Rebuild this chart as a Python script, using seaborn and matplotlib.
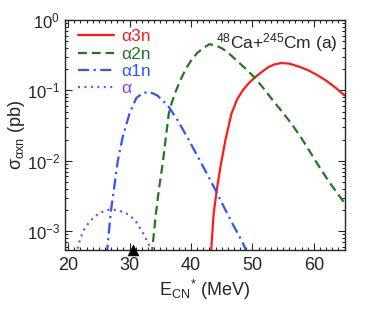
import numpy as np
import pandas as pd
import seaborn as sns
import matplotlib
matplotlib.use("Agg")
import matplotlib.pyplot as plt
from matplotlib.ticker import LogLocator, MultipleLocator, NullFormatter

# ---- data ----
a3n_x = [43.2, 43.3, 43.7, 44.2, 44.8, 45.6, 46.6, 47.5, 48.5, 49.5, 50.5, 51.5, 52.6, 53.6, 54.7,
         56.0, 57.5, 59.0, 60.5, 62.0, 63.5, 65.0]
a3n_y = [4.47e-4, 5.37e-4, 1.78e-3, 3.80e-3, 8.13e-3, 0.0195, 0.0468, 0.0740, 0.102, 0.129, 0.155,
         0.182, 0.214, 0.234, 0.245, 0.240, 0.219, 0.195, 0.166, 0.138, 0.110, 0.0851]

a2n_x = [33.6, 34.3, 34.8, 35.4, 35.9, 36.4, 36.9, 37.5, 38.3, 39.2, 40.0, 41.0, 42.0, 43.0, 44.0,
         45.0, 46.0, 47.0, 48.0, 49.0, 50.5, 52.0, 53.5, 55.0, 56.5, 58.0, 59.5, 61.0, 62.5, 64.0, 65.0]
a2n_y = [4.47e-4, 1.78e-3, 3.98e-3, 9.12e-3, 0.0209, 0.0468, 0.0676, 0.0955, 0.141, 0.204, 0.263,
         0.339, 0.398, 0.452, 0.437, 0.398, 0.347, 0.288, 0.240, 0.200, 0.148, 0.102, 0.0692,
         0.0479, 0.0324, 0.0209, 0.0129, 7.94e-3, 5.01e-3, 3.31e-3, 2.51e-3]

a1n_x = [26.3, 26.6, 27.0, 27.6, 28.1, 28.9, 30.0, 31.1, 32.1, 33.2, 34.5, 36.2, 37.8, 39.5, 41.3,
         43.0, 44.2, 45.5, 47.0, 48.3, 49.1, 49.3]
a1n_y = [4.47e-4, 8.91e-4, 2.0e-3, 4.79e-3, 0.0100, 0.0219, 0.0468, 0.0776, 0.0912, 0.0955, 0.0851,
         0.0617, 0.0380, 0.0209, 0.0107, 5.62e-3, 3.55e-3, 2.09e-3, 1.17e-3, 7.24e-4, 5.01e-4, 4.47e-4]

a0n_x = [21.3, 21.9, 22.5, 23.3, 24.3, 25.9, 27.0, 28.4, 30.0, 31.1, 32.1, 32.9, 33.6, 33.8]
a0n_y = [4.6e-4, 7.4e-4, 1.02e-3, 1.29e-3, 1.62e-3, 1.95e-3, 2.04e-3, 1.95e-3, 1.7e-3, 1.35e-3,
         9.8e-4, 7.1e-4, 5.4e-4, 4.6e-4]

labels = ["α3n", "α2n", "α1n", "α"]
colors = ["#ff1a1a", "#1f7a1f", "#2e55ff", "#8a3cff"]
barrier_x = [30.5]

# ---- style ----
sns.set_style("ticks")
plt.rcParams["font.family"] = ["Liberation Sans", "DejaVu Sans"]
plt.rcParams["mathtext.fontset"] = "custom"
plt.rcParams["mathtext.rm"] = "Liberation Sans"
plt.rcParams["mathtext.it"] = "Liberation Sans:italic"
plt.rcParams["mathtext.bf"] = "Liberation Sans:bold"

fig = plt.figure(figsize=(3.74, 3.2), dpi=100)
ax = fig.add_axes([65 / 374, 70 / 320, 279.5 / 374, 230 / 320])

series = [(a3n_x, a3n_y), (a2n_x, a2n_y), (a1n_x, a1n_y), (a0n_x, a0n_y)]
styles = ["-", (0, (4.0, 2.2)), (0, (5.0, 2.0, 1.0, 2.0)), (0, (0.9, 2.0))]
for (xs, ys), lab, col, ls in zip(series, labels, colors, styles):
    df = pd.DataFrame({"E": xs, "sigma": ys})
    sns.lineplot(data=df, x="E", y="sigma", ax=ax, color=col, lw=1.6, label=lab, sort=False)
    ax.lines[-1].set_linestyle(ls)

ax.set_yscale("log")
ax.set_xlim(19.5, 65)
ax.set_ylim(5.4e-4, 1.0)

sns.scatterplot(x=barrier_x, y=[5.4e-4], marker="^", color="black", s=60, ax=ax,
                clip_on=False, zorder=5, edgecolor="black", linewidth=0.5)

ax.xaxis.set_major_locator(MultipleLocator(10))
ax.xaxis.set_minor_locator(MultipleLocator(1))
ax.yaxis.set_major_locator(LogLocator(base=10, numticks=10))
ax.yaxis.set_minor_locator(LogLocator(base=10, subs=np.arange(2, 10), numticks=10))
ax.yaxis.set_minor_formatter(NullFormatter())
ax.tick_params(which="both", direction="in", top=True, right=True, width=0.8)
ax.tick_params(axis="x", labelsize=13, pad=5)
ax.tick_params(axis="y", labelsize=12)
ax.tick_params(which="major", length=5)
ax.tick_params(which="minor", length=2.5)
for s in ax.spines.values():
    s.set_linewidth(1.0)

ax.set_xlabel(r"$\mathregular{E_{CN}{}^{*}}$ (MeV)", fontsize=13, labelpad=3)
ax.set_ylabel(r"$\mathregular{\sigma_{\alpha xn}}$ (pb)", fontsize=13)
ax.yaxis.set_label_coords(-0.135, 0.5)

leg = ax.legend(loc="upper left", frameon=False, fontsize=12.5, handlelength=2.1,
                handletextpad=0.4, labelspacing=0.12, borderaxespad=0.0,
                bbox_to_anchor=(0.02, 0.99), labelcolor=colors)

ax.text(0.975, 0.9, r"$\mathregular{^{48}Ca{+}^{245}Cm}$ (a)", transform=ax.transAxes,
        ha="right", va="center", fontsize=12.5)

fig.savefig("out.png", dpi=100)
